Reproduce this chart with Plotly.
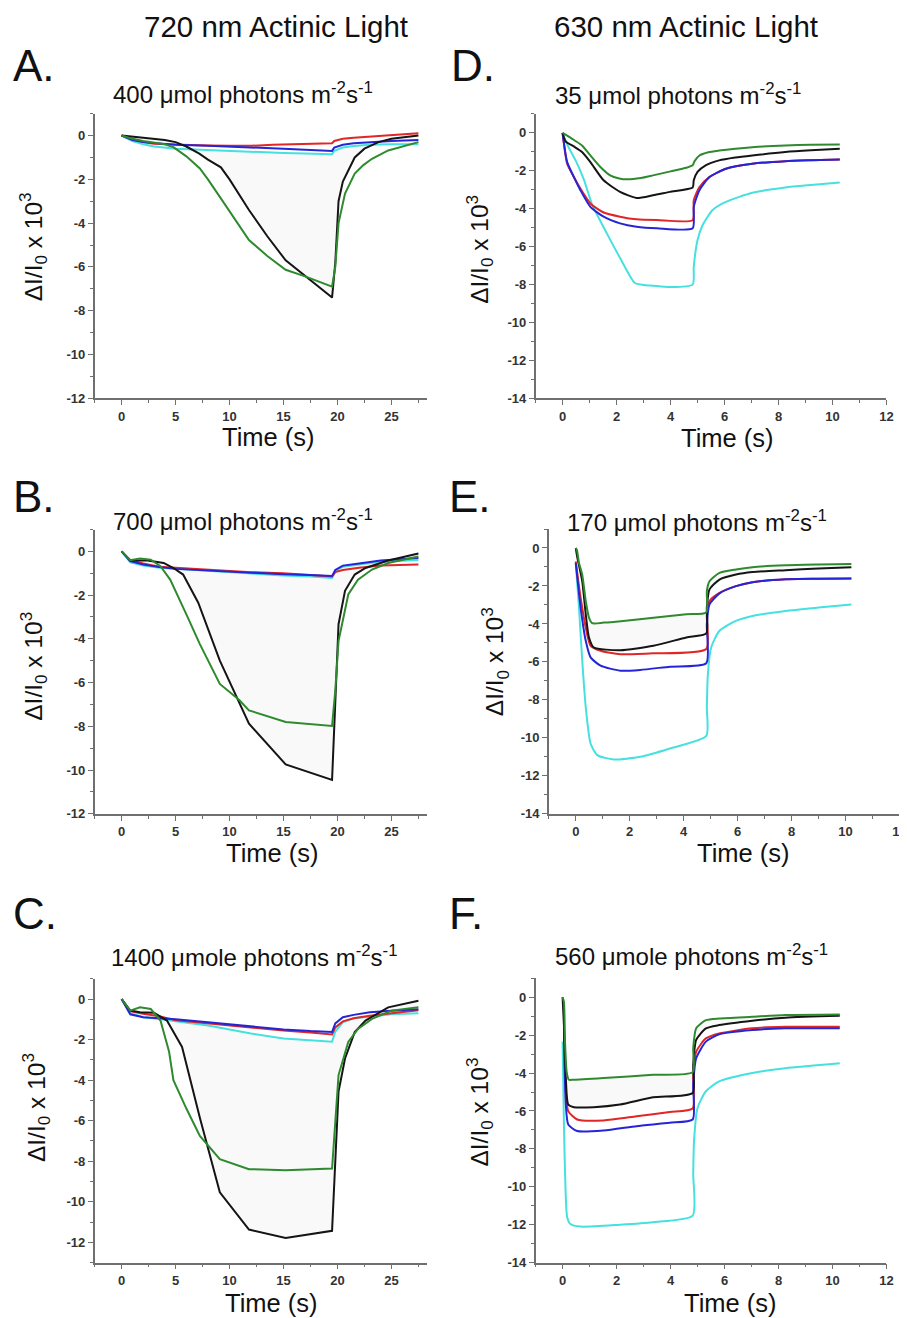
import plotly.graph_objects as go

# ---------------- DATA ----------------
# Panel A (720 nm, 400)
A_black_t = [0, 1, 2, 3, 4, 5, 6, 7.2, 8, 9.2, 10, 11.8, 13.5, 15.2, 17.5, 19.5, 19.8, 20.1, 20.5, 21, 21.6, 22.5, 23.8, 25, 27.5]
A_black_y = [0, -0.05, -0.1, -0.12, -0.2, -0.3, -0.5, -0.83, -1.1, -1.45, -2.0, -3.4, -4.6, -5.7, -6.6, -7.4, -5.8, -3.0, -2.1, -1.6, -1.0, -0.6, -0.3, -0.15, 0.0]
A_green_t = [0, 1, 2, 3, 4, 4.8, 6, 7.25, 8, 9.1, 10.5, 11.8, 13.5, 15.2, 17, 19.5, 19.8, 20.1, 20.7, 21.6, 22.4, 23.2, 24.7, 26, 27.5]
A_green_y = [0, -0.15, -0.25, -0.32, -0.4, -0.53, -0.95, -1.5, -2.0, -2.8, -3.8, -4.77, -5.5, -6.13, -6.43, -6.9, -6.0, -4.0, -2.65, -1.74, -1.35, -1.06, -0.68, -0.5, -0.3]
A_red_t = [0, 1, 2, 3, 5, 8, 10, 12, 14, 17, 19.5, 19.7, 20.5, 21.5, 23, 24.5, 26, 27.5]
A_red_y = [0, -0.15, -0.3, -0.38, -0.42, -0.45, -0.47, -0.47, -0.42, -0.38, -0.35, -0.25, -0.15, -0.1, -0.05, 0.02, 0.07, 0.1]
A_blue_t = [0, 1, 2, 3, 5, 8, 10, 12, 15, 17, 19.5, 19.7, 20.5, 21.5, 23, 25, 27.5]
A_blue_y = [0, -0.2, -0.3, -0.35, -0.42, -0.47, -0.5, -0.55, -0.6, -0.65, -0.7, -0.55, -0.42, -0.35, -0.3, -0.25, -0.2]
A_cyan_t = [0, 1, 2, 3, 5, 8, 10, 12, 15, 17, 19.5, 19.7, 20.5, 21.5, 23, 25, 27.5]
A_cyan_y = [0, -0.25, -0.4, -0.5, -0.6, -0.67, -0.7, -0.75, -0.8, -0.82, -0.85, -0.7, -0.55, -0.48, -0.42, -0.4, -0.4]

# Panel B (720 nm, 700)
B_black_t = [0, 0.8, 2.4, 3.9, 4.8, 5.7, 7.1, 9.1, 11.8, 15.2, 19.5, 19.8, 20.1, 20.7, 21.6, 22.6, 24.7, 27.5]
B_black_y = [0, -0.42, -0.42, -0.53, -0.76, -1.06, -2.35, -5.0, -7.88, -9.74, -10.45, -7.1, -3.33, -1.8, -1.06, -0.76, -0.42, -0.1]
B_green_t = [0, 0.8, 1.7, 2.7, 3.6, 4.5, 6.0, 7.25, 9.1, 10.9, 11.8, 13.5, 15.2, 19.5, 19.8, 20.1, 21.0, 21.9, 23.2, 24.7, 27.5]
B_green_y = [0, -0.4, -0.33, -0.38, -0.68, -1.29, -2.88, -4.24, -6.06, -6.8, -7.27, -7.55, -7.8, -7.98, -6.36, -4.1, -1.97, -1.29, -0.83, -0.53, -0.23]
B_other_t = [0, 0.8, 2, 3.5, 5, 8, 10, 12, 15, 17.5, 19.5, 19.8, 20.5, 22, 24, 27.5]
B_red_y = [0, -0.4, -0.55, -0.7, -0.75, -0.85, -0.9, -0.95, -1.0, -1.08, -1.15, -0.95, -0.85, -0.75, -0.65, -0.6]
B_blue_y = [0, -0.45, -0.6, -0.72, -0.8, -0.88, -0.95, -0.98, -1.05, -1.08, -1.12, -0.85, -0.65, -0.55, -0.42, -0.3]
B_cyan_y = [0, -0.5, -0.65, -0.75, -0.8, -0.9, -0.95, -1.0, -1.1, -1.15, -1.22, -0.9, -0.7, -0.6, -0.47, -0.4]

# Panel C (720 nm, 1400)
C_black_t = [0, 0.8, 1.7, 3.0, 4.2, 5.6, 7.25, 9.1, 11.8, 15.2, 19.5, 19.8, 20.1, 20.7, 21.6, 22.6, 24.7, 27.5]
C_black_y = [0, -0.57, -0.65, -0.68, -1.06, -2.36, -5.86, -9.53, -11.37, -11.78, -11.43, -7.8, -4.56, -2.93, -1.63, -1.06, -0.41, -0.08]
C_green_t = [0, 0.8, 1.7, 2.7, 3.6, 4.4, 4.8, 6.0, 7.25, 9.1, 11.8, 15.2, 19.5, 19.8, 20.1, 21.0, 21.9, 23.2, 25, 27.5]
C_green_y = [0, -0.57, -0.41, -0.49, -1.06, -2.6, -4.0, -5.4, -6.75, -7.9, -8.39, -8.44, -8.36, -6.2, -3.75, -2.12, -1.47, -0.98, -0.57, -0.41]
C_other_t = [0, 0.8, 2, 3.5, 5, 8, 10, 12, 15, 17.5, 19.5, 19.8, 20.5, 21.5, 23, 25, 27.5]
C_red_y = [0, -0.6, -0.72, -0.85, -1.05, -1.2, -1.3, -1.42, -1.55, -1.65, -1.75, -1.4, -1.1, -0.95, -0.82, -0.7, -0.55]
C_blue_y = [0, -0.75, -0.9, -0.95, -1.0, -1.15, -1.25, -1.38, -1.5, -1.58, -1.62, -1.2, -0.9, -0.78, -0.65, -0.58, -0.5]
C_cyan_y = [0, -0.7, -0.9, -0.98, -1.1, -1.3, -1.5, -1.7, -1.95, -2.05, -2.1, -1.6, -1.15, -0.95, -0.85, -0.75, -0.7]

# Panel D (630 nm, 35)
D_green_t = [0, 0.17, 0.45, 0.72, 1.03, 1.4, 1.76, 2.1, 2.38, 2.9, 3.35, 4.0, 4.58, 4.82, 4.89, 5.07, 5.4, 5.8, 6.4, 7.03, 8.25, 9.2, 10.27]
D_green_y = [0, -0.14, -0.4, -0.66, -1.19, -1.8, -2.24, -2.4, -2.45, -2.38, -2.24, -2.03, -1.84, -1.71, -1.49, -1.19, -1.02, -0.93, -0.83, -0.75, -0.66, -0.63, -0.61]
D_black_t = [0, 0.11, 0.4, 0.72, 1.03, 1.52, 2.13, 2.74, 3.35, 3.97, 4.82, 4.86, 5.0, 5.3, 5.8, 6.4, 7.03, 8.25, 9.2, 10.27]
D_black_y = [0, -0.44, -0.7, -1.01, -1.54, -2.5, -3.11, -3.43, -3.29, -3.11, -2.88, -2.5, -2.06, -1.71, -1.45, -1.3, -1.19, -1.01, -0.92, -0.84]
D_rb_t = [0, 0.17, 0.42, 0.66, 1.03, 1.52, 2.13, 2.74, 3.5, 4.82, 4.86, 5.07, 5.44, 6.05, 7.03, 8.25, 9.2, 10.27]
D_red_y = [0, -1.63, -2.33, -2.94, -3.72, -4.2, -4.42, -4.56, -4.6, -4.6, -3.55, -2.85, -2.33, -1.89, -1.63, -1.49, -1.44, -1.4]
D_blue_y = [0, -1.54, -2.33, -3.02, -3.9, -4.42, -4.77, -4.95, -5.03, -5.03, -3.9, -3.02, -2.33, -1.89, -1.63, -1.49, -1.44, -1.4]
D_cyan_t = [0, 0.2, 0.5, 0.8, 1.1, 1.64, 2.13, 2.68, 3.0, 3.35, 3.97, 4.82, 4.86, 5.0, 5.19, 5.56, 6.05, 7.03, 8.25, 9.2, 10.27]
D_cyan_y = [0, -0.7, -1.5, -2.5, -3.8, -5.3, -6.6, -7.92, -8.02, -8.06, -8.13, -8.0, -7.05, -5.65, -4.86, -4.07, -3.64, -3.16, -2.88, -2.75, -2.62]

# Panel E (630 nm, 170)
E_green_t = [0, 0.04, 0.12, 0.24, 0.37, 0.49, 0.61, 1.04, 2.02, 2.88, 4.1, 4.84, 4.86, 4.96, 5.33, 5.94, 6.55, 7.78, 9, 10.22]
E_green_y = [0, -0.09, -0.79, -1.4, -2.79, -3.67, -3.96, -3.93, -3.8, -3.67, -3.49, -3.4, -2.27, -1.75, -1.31, -1.13, -1.01, -0.91, -0.87, -0.84]
E_black_t = [0, 0.06, 0.24, 0.37, 0.49, 0.67, 1.65, 2.88, 4.1, 4.84, 4.86, 4.96, 5.33, 5.94, 6.55, 7.78, 9, 10.22]
E_black_y = [0, -0.52, -1.75, -3.49, -4.71, -5.24, -5.38, -5.15, -4.71, -4.5, -3.14, -2.18, -1.66, -1.4, -1.27, -1.17, -1.08, -1.01]
E_red_t = [0, 0.18, 0.37, 0.55, 0.92, 1.65, 2.88, 4.84, 4.86, 4.96, 5.33, 5.94, 6.55, 7.78, 9, 10.22]
E_red_y = [-0.7, -2.62, -4.19, -5.15, -5.41, -5.59, -5.55, -5.32, -3.49, -2.79, -2.36, -2.01, -1.8, -1.65, -1.62, -1.6]
E_blue_t = [0, 0.18, 0.37, 0.55, 0.92, 1.65, 2.39, 3.49, 4.84, 4.86, 4.96, 5.33, 5.94, 6.55, 7.78, 9, 10.22]
E_blue_y = [-0.79, -3.14, -4.89, -5.76, -6.2, -6.46, -6.42, -6.25, -6.07, -4.01, -2.97, -2.39, -2.01, -1.8, -1.65, -1.62, -1.6]
E_cyan_t = [0, 0.12, 0.24, 0.37, 0.55, 0.8, 1.41, 2.39, 3.49, 4.84, 4.86, 4.9, 5.02, 5.33, 5.94, 6.55, 7.78, 9.0, 10.22]
E_cyan_y = [-0.79, -3.14, -5.93, -8.38, -10.3, -10.91, -11.14, -11.0, -10.56, -9.9, -8.38, -6.63, -5.24, -4.36, -3.84, -3.58, -3.32, -3.14, -2.97]

# Panel F (630 nm, 560)
F_green_t = [0, 0.05, 0.09, 0.15, 0.23, 0.42, 1.52, 3.35, 4.82, 4.84, 4.95, 5.31, 5.8, 7.03, 8.25, 10.27]
F_green_y = [0, -0.24, -2.34, -3.92, -4.35, -4.35, -4.26, -4.09, -3.95, -2.69, -1.64, -1.21, -1.12, -1.03, -0.94, -0.91]
F_black_t = [0, 0.05, 0.12, 0.21, 0.42, 1.15, 2.13, 3.35, 4.82, 4.84, 4.95, 5.31, 5.8, 7.03, 8.25, 10.27]
F_black_y = [0, -1.47, -4.26, -5.66, -5.8, -5.8, -5.66, -5.28, -5.05, -3.57, -2.25, -1.64, -1.47, -1.24, -1.08, -0.98]
F_rb_t = [0.05, 0.12, 0.21, 0.54, 1.52, 2.74, 3.97, 4.82, 4.84, 4.95, 5.31, 5.8, 7.03, 8.25, 10.27]
F_red_y = [-1.64, -4.96, -6.01, -6.45, -6.5, -6.28, -6.05, -5.87, -4.09, -2.87, -2.17, -1.91, -1.64, -1.56, -1.56]
F_blue_y = [-1.82, -5.66, -6.71, -7.06, -7.03, -6.8, -6.62, -6.45, -4.61, -3.22, -2.34, -1.96, -1.73, -1.64, -1.64]
F_cyan_t = [0, 0.05, 0.11, 0.17, 0.29, 0.66, 2.13, 3.35, 4.82, 4.84, 4.87, 5.0, 5.31, 5.8, 7.03, 8.25, 10.27]
F_cyan_y = [-2.34, -6.71, -10.21, -11.6, -11.96, -12.1, -12.0, -11.87, -11.52, -9.33, -7.59, -5.84, -4.96, -4.44, -4.0, -3.74, -3.48]

# Tick labels
x_ticks_720 = [0, 5, 10, 15, 20, 25]
x_ticks_630 = [0, 2, 4, 6, 8, 10, 12]
y_ticks_12 = [-12, -10, -8, -6, -4, -2, 0]
y_ticks_14 = [-14, -12, -10, -8, -6, -4, -2, 0]

headers = ["720 nm Actinic Light", "630 nm Actinic Light"]
panel_letters = ["A.", "B.", "C.", "D.", "E.", "F."]
subtitles = [
    "400 μmol photons m<sup>-2</sup>s<sup>-1</sup>",
    "700 μmol photons m<sup>-2</sup>s<sup>-1</sup>",
    "1400 μmole photons m<sup>-2</sup>s<sup>-1</sup>",
    "35 μmol photons m<sup>-2</sup>s<sup>-1</sup>",
    "170 μmol photons m<sup>-2</sup>s<sup>-1</sup>",
    "560 μmole photons m<sup>-2</sup>s<sup>-1</sup>",
]
y_title = "ΔI/I<sub>0</sub> x 10<sup>3</sup>"
x_title = "Time (s)"

# ---------------- STYLE ----------------
W, H = 907, 1318
FONT = "Liberation Sans, Arial, sans-serif"
C_BLACK = "#151515"
C_GREEN = "#2f8a2f"
C_RED = "#e02626"
C_BLUE = "#2525d8"
C_CYAN = "#45e0e0"
AX_COL = "#707070"


def px(x):
    return x / W


def py(y):
    return 1 - y / H


fig = go.Figure()

# panel geometry in pixels: (left, right, top, bottom)
panels = {
    1: dict(x=(87.3, 422.3), y=(106.3, 392.7), xr=[-2.5, 28.3], yr=[-12, 1], xt=x_ticks_720, yt=y_ticks_12, xm=2.5),
    2: dict(x=(87.3, 422.3), y=(524.7, 810.7), xr=[-2.5, 28.3], yr=[-12, 1], xt=x_ticks_720, yt=y_ticks_12, xm=2.5),
    3: dict(x=(87.3, 422.3), y=(976.7, 1262.3), xr=[-2.5, 28.3], yr=[-13, 1], xt=x_ticks_720, yt=y_ticks_12, xm=2.5),
    4: dict(x=(531.7, 885.3), y=(106.6, 392.7), xr=[-1, 12], yr=[-14, 1], xt=x_ticks_630, yt=y_ticks_14, xm=1),
    5: dict(x=(545.0, 898.3), y=(524.2, 810.7), xr=[-1, 12], yr=[-14, 1], xt=x_ticks_630, yt=y_ticks_14, xm=1),
    6: dict(x=(531.7, 885.3), y=(976.2, 1262.3), xr=[-1, 12], yr=[-14, 1], xt=x_ticks_630, yt=y_ticks_14, xm=1),
}

for i, p in panels.items():
    xa = "xaxis" if i == 1 else f"xaxis{i}"
    ya = "yaxis" if i == 1 else f"yaxis{i}"
    common = dict(showline=True, linecolor=AX_COL, linewidth=1.5, ticks="outside", ticklen=5,
                  tickwidth=1.3, tickcolor=AX_COL, showgrid=False, zeroline=False,
                  tickfont=dict(family="Liberation Sans, Arial", size=13, color="#333333", weight="bold"))
    fig.layout[xa] = dict(common, domain=[px(p["x"][0]), px(p["x"][1])], range=p["xr"],
                          anchor=f"y{i}" if i > 1 else "y",
                          tickmode="array", tickvals=p["xt"], ticktext=[str(v) for v in p["xt"]],
                          minor=dict(ticks="outside", ticklen=3, tickcolor=AX_COL, tickwidth=1.2,
                                     tickmode="linear", tick0=0, dtick=p["xm"]))
    fig.layout[ya] = dict(common, domain=[py(p["y"][1]), py(p["y"][0])], range=p["yr"],
                          anchor=f"x{i}" if i > 1 else "x",
                          tickmode="array", tickvals=p["yt"], ticktext=[str(v) for v in p["yt"]],
                          minor=dict(ticks="outside", ticklen=3, tickcolor=AX_COL, tickwidth=1.2,
                                     tickmode="linear", tick0=0, dtick=1))


def ax(i):
    return ("x", "y") if i == 1 else (f"x{i}", f"y{i}")


def fill_between(i, t1, y1, t2, y2):
    xa, ya = ax(i)
    fig.add_trace(go.Scatter(x=t1, y=y1, mode="lines", line=dict(width=0), xaxis=xa, yaxis=ya,
                             showlegend=False, hoverinfo="skip"))
    fig.add_trace(go.Scatter(x=t2, y=y2, mode="lines", line=dict(width=0), fill="tonexty",
                             fillcolor="rgba(0,0,0,0.022)", xaxis=xa, yaxis=ya,
                             showlegend=False, hoverinfo="skip"))


def line(i, t, y, color, shape="linear"):
    xa, ya = ax(i)
    fig.add_trace(go.Scatter(x=t, y=y, mode="lines", xaxis=xa, yaxis=ya, showlegend=False,
                             line=dict(color=color, width=2, shape=shape, smoothing=0.6)))


# shaded areas
fill_between(1, A_cyan_t, A_cyan_y, A_black_t, A_black_y)
fill_between(2, B_other_t, B_cyan_y, B_black_t, B_black_y)
fill_between(3, C_other_t, C_cyan_y, C_black_t, C_black_y)
fill_between(5, E_green_t, E_green_y, E_black_t, E_black_y)
fill_between(6, F_green_t, F_green_y, F_black_t, F_black_y)

# Panel A
line(1, A_cyan_t, A_cyan_y, C_CYAN)
line(1, A_red_t, A_red_y, C_RED)
line(1, A_blue_t, A_blue_y, C_BLUE)
line(1, A_black_t, A_black_y, C_BLACK)
line(1, A_green_t, A_green_y, C_GREEN)
# Panel B
line(2, B_other_t, B_cyan_y, C_CYAN)
line(2, B_other_t, B_red_y, C_RED)
line(2, B_other_t, B_blue_y, C_BLUE)
line(2, B_black_t, B_black_y, C_BLACK)
line(2, B_green_t, B_green_y, C_GREEN)
# Panel C
line(3, C_other_t, C_cyan_y, C_CYAN)
line(3, C_other_t, C_red_y, C_RED)
line(3, C_other_t, C_blue_y, C_BLUE)
line(3, C_black_t, C_black_y, C_BLACK)
line(3, C_green_t, C_green_y, C_GREEN)
# Panel D
line(4, D_cyan_t, D_cyan_y, C_CYAN, "spline")
line(4, D_rb_t, D_red_y, C_RED, "spline")
line(4, D_rb_t, D_blue_y, C_BLUE, "spline")
line(4, D_black_t, D_black_y, C_BLACK, "spline")
line(4, D_green_t, D_green_y, C_GREEN, "spline")
# Panel E
line(5, E_cyan_t, E_cyan_y, C_CYAN, "spline")
line(5, E_red_t, E_red_y, C_RED, "spline")
line(5, E_blue_t, E_blue_y, C_BLUE, "spline")
line(5, E_black_t, E_black_y, C_BLACK, "spline")
line(5, E_green_t, E_green_y, C_GREEN, "spline")
# Panel F
line(6, F_cyan_t, F_cyan_y, C_CYAN, "spline")
line(6, F_rb_t, F_red_y, C_RED, "spline")
line(6, F_rb_t, F_blue_y, C_BLUE, "spline")
line(6, F_black_t, F_black_y, C_BLACK, "spline")
line(6, F_green_t, F_green_y, C_GREEN, "spline")

annotations = []


def ann(text, x, y, size, xanchor="center", yanchor="middle", angle=0, color="#111"):
    annotations.append(dict(text=text, x=px(x), y=py(y), xref="paper", yref="paper",
                            xanchor=xanchor, yanchor=yanchor, showarrow=False, textangle=angle,
                            font=dict(family=FONT, size=size, color=color)))


ann(headers[0], 270, 19, 29.5)
ann(headers[1], 683, 19, 29.5)

letter_pos = [(3, 58), (3, 491), (3, 911), (444, 58), (442, 491), (442, 911)]
for t, (x, y) in zip(panel_letters, letter_pos):
    ann(t, x, y, 44, xanchor="left")

sub_pos = [(104, 86), (104, 515), (102, 954), (549, 87), (561, 516), (549, 953)]
for t, (x, y) in zip(subtitles, sub_pos):
    ann(t, x, y, 24, xanchor="left")

ytitle_pos = [(25, 240), (26, 662), (28, 1106), (475, 243), (490, 658), (475, 1111)]
for x, y in ytitle_pos:
    ann(y_title, x, y, 24.5, angle=-90)

xtitle_pos = [(263, 432), (267, 850), (266, 1303), (725, 433), (741, 850), (728, 1303)]
for x, y in xtitle_pos:
    ann(x_title, x, y, 25.5)

fig.update_layout(width=W, height=H, margin=dict(l=0, r=0, t=0, b=0),
                  paper_bgcolor="white", plot_bgcolor="white", annotations=annotations,
                  showlegend=False)

fig.write_html("out.html")
